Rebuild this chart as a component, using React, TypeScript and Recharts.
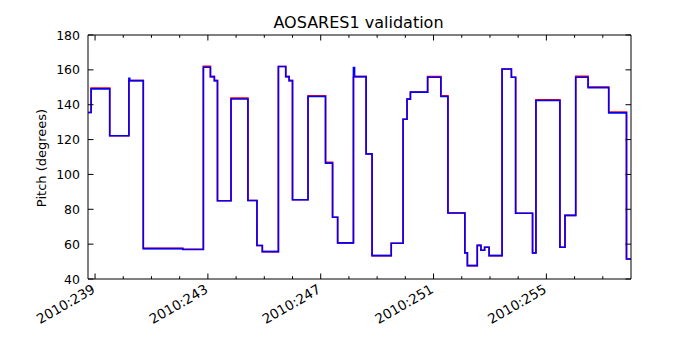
import { Line, LineChart, XAxis, YAxis } from "recharts";

const DAYS = [
  238.75, 238.86, 239.52, 240.2, 240.23, 240.71, 242.11, 242.84, 243.09, 243.23,
  243.34, 243.82, 244.42, 244.74, 244.93, 245.5, 245.76, 245.88, 246.0, 246.55,
  247.17, 247.42, 247.6, 248.16, 248.2, 248.61, 248.82, 249.5, 249.92, 250.06,
  250.18, 250.79, 251.26, 251.51, 252.11, 252.2, 252.55, 252.68, 252.81, 252.97,
  253.43, 253.76, 253.91, 254.51, 254.63, 255.48, 255.66, 256.04, 256.48, 257.21,
  257.84, 258.0,
];

// telemetry (blue) and model (red) pitch
const BLUE = [
  135.5, 149.1, 122.2, 155.2, 153.8, 57.4, 56.9, 161.5, 156.1, 153.8,
  84.9, 143.3, 85.0, 59.2, 55.7, 161.9, 156.1, 153.8, 85.5, 144.7,
  106.5, 75.4, 60.7, 161.3, 156.1, 111.8, 53.4, 60.5, 131.7, 143.2,
  147.2, 155.8, 144.7, 77.9, 55.0, 47.7, 59.3, 56.5, 58.2, 53.4,
  160.5, 155.8, 77.7, 55.0, 142.4, 58.2, 76.5, 155.8, 149.8, 135.3,
  51.5, 51.5,
];

const RED = [
  135.5, 149.5, 122.2, 153.8, 153.8, 57.6, 57.1, 162.1, 156.1, 153.8,
  84.9, 143.8, 85.0, 59.2, 55.7, 161.9, 156.1, 153.8, 85.5, 145.1,
  107.0, 75.4, 60.7, 156.1, 156.1, 111.8, 53.4, 60.5, 131.7, 143.2,
  147.2, 156.2, 145.1, 77.9, 55.0, 47.7, 59.3, 56.5, 58.2, 53.4,
  160.5, 155.8, 77.7, 55.0, 142.8, 58.2, 76.5, 156.3, 150.2, 135.8,
  51.5, 51.5,
];

const X_TICKS = [239, 240, 241, 242, 243, 244, 245, 246, 247, 248, 249, 250, 251, 252, 253, 254, 255, 256, 257];
const X_MAJOR = [239, 243, 247, 251, 255];
const Y_TICKS = [40, 60, 80, 100, 120, 140, 160, 180];

const FONT = "'DejaVu Sans', sans-serif";

const data = DAYS.map((t, i) => ({ t, blue: BLUE[i], red: RED[i] }));

function BottomTick(props: any) {
  const { x, y, payload } = props;
  const major = X_MAJOR.includes(payload.value);
  const ax = x + 1;
  const ay = y + 13;
  return (
    <g>
      <line x1={x} y1={y} x2={x} y2={y - (major ? 5.5 : 2.8)} stroke="#000" />
      {major && (
        <text
          x={ax}
          y={ay}
          textAnchor="end"
          fontSize={13.5}
          fontFamily={FONT}
          fill="#000"
          transform={`rotate(-30, ${ax}, ${ay})`}
        >
          {`2010:${payload.value}`}
        </text>
      )}
    </g>
  );
}

function TopTick(props: any) {
  const { x, y, payload } = props;
  const major = X_MAJOR.includes(payload.value);
  return <line x1={x} y1={y} x2={x} y2={y + (major ? 5.5 : 2.8)} stroke="#000" />;
}

function LeftTick(props: any) {
  const { x, y, payload } = props;
  return (
    <g>
      <line x1={x} y1={y} x2={x + 5.5} y2={y} stroke="#000" />
      <text x={x - 8} y={y} dy="0.36em" textAnchor="end" fontSize={12.5} fontFamily={FONT} fill="#000">
        {payload.value}
      </text>
    </g>
  );
}

function RightTick(props: any) {
  const { x, y } = props;
  return <line x1={x} y1={y} x2={x - 5.5} y2={y} stroke="#000" />;
}

export default function App() {
  return (
    <div style={{ position: "absolute", left: 0, top: 0, width: 700, height: 350, background: "#fff" }}>
      <LineChart width={700} height={350} data={data} margin={{ top: 34, right: 68, bottom: 1, left: 0 }}>
        <XAxis
          xAxisId="bottom"
          dataKey="t"
          type="number"
          domain={[238.75, 258]}
          allowDataOverflow
          ticks={X_TICKS}
          interval={0}
          height={70}
          tickSize={0}
          tickMargin={0}
          tickLine={false}
          axisLine={{ stroke: "#000" }}
          tick={BottomTick}
        />
        <XAxis
          xAxisId="top"
          orientation="top"
          dataKey="t"
          type="number"
          domain={[238.75, 258]}
          allowDataOverflow
          ticks={X_TICKS}
          interval={0}
          height={1}
          tickSize={0}
          tickMargin={0}
          tickLine={false}
          axisLine={{ stroke: "#000" }}
          tick={TopTick}
        />
        <YAxis
          yAxisId="left"
          type="number"
          domain={[40, 180]}
          allowDataOverflow
          ticks={Y_TICKS}
          interval={0}
          width={88}
          tickSize={0}
          tickMargin={0}
          tickLine={false}
          axisLine={{ stroke: "#000" }}
          tick={LeftTick}
        />
        <YAxis
          yAxisId="right"
          orientation="right"
          type="number"
          domain={[40, 180]}
          allowDataOverflow
          ticks={Y_TICKS}
          interval={0}
          width={1}
          tickSize={0}
          tickMargin={0}
          tickLine={false}
          axisLine={{ stroke: "#000" }}
          tick={RightTick}
        />
        <Line
          xAxisId="top"
          yAxisId="right"
          dataKey="red"
          type="stepAfter"
          stroke="#ff0000"
          strokeWidth={1.6}
          dot={false}
          isAnimationActive={false}
        />
        <Line
          xAxisId="bottom"
          yAxisId="left"
          dataKey="blue"
          type="stepAfter"
          stroke="#0000ff"
          strokeWidth={1.6}
          dot={false}
          isAnimationActive={false}
        />
      </LineChart>
      <svg
        width={700}
        height={350}
        style={{ position: "absolute", left: 0, top: 0, pointerEvents: "none" }}
      >
        <text x={358.5} y={28.3} textAnchor="middle" fontSize={16} fontFamily={FONT} fill="#000">
          AOSARES1 validation
        </text>
        <text
          transform="translate(45.5, 158) rotate(-90)"
          textAnchor="middle"
          fontSize={13}
          fontFamily={FONT}
          fill="#000"
        >
          Pitch (degrees)
        </text>
      </svg>
    </div>
  );
}
